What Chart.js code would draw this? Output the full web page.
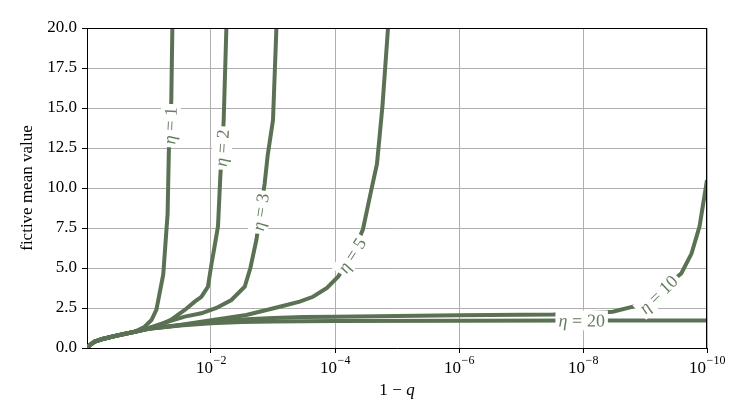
<!DOCTYPE html>
<html>
<head>
<meta charset="utf-8">
<script src="https://cdn.jsdelivr.net/npm/chart.js@4.4.1/dist/chart.umd.min.js"></script>
<style>
  body { margin: 0; background: #fff; }
  canvas { display: block; }
</style>
</head>
<body>
<canvas id="grafica-mean" width="750" height="420"></canvas>
<script>
// shared start of every curve (1 - q, value)
const trunkX = [1, 0.8913, 0.7499, 0.5623, 0.3548, 0.1698];
const trunkY = [0, 0.2, 0.4, 0.56, 0.75, 1.02];

const eta1X = [0.1175, 0.0912, 0.0759, 0.0589, 0.0501, 0.0479, 0.0437, 0.0420, 0.0407];
const eta1Y = [1.33, 1.75, 2.4, 4.6, 8.4, 12.2, 15.5, 20, 24];

const eta2X = [0.1122, 0.0724, 0.0437, 0.0265, 0.0183, 0.0143, 0.01122, 0.00986, 0.00871, 0.00771, 0.00708, 0.00624, 0.00565, 0.00537];
const eta2Y = [1.2, 1.36, 1.78, 2.375, 2.9, 3.2, 3.83, 5.2, 6.4, 7.6, 10.7, 14.25, 20, 24];

const eta3X = [0.1, 0.0501, 0.0265, 0.0143, 0.00818, 0.00469, 0.002858, 0.002317, 0.001854, 0.001361, 0.001216, 0.001, 0.000881, 0.000832];
const eta3Y = [1.25, 1.64, 1.96, 2.17, 2.5, 3.0, 3.83, 5.0, 6.75, 10.3, 12.06, 14.25, 20, 24];

const eta5X = [0.1, 0.03199, 0.00933, 0.002692, 0.00078, 0.0003715, 0.0002265, 0.0001349, 0.0000891, 0.0000537, 0.0000355, 0.0000259, 0.00002104, 0.00001718, 0.00001396, 0.00001318];
const eta5Y = [1.22, 1.44, 1.75, 2.06, 2.58, 2.9, 3.2, 3.75, 4.46, 5.8, 7.4, 9.9, 11.5, 15.1, 20, 24];

const eta10X = [0.1, 0.03162, 0.01, 0.003162, 0.001, 0.0003162, 1e-4, 1e-5, 1e-6, 1e-7, 3.02e-8, 1e-8, 3.31e-9, 1.563e-9, 1e-9, 6.31e-10, 3.98e-10, 2.588e-10, 1.778e-10, 1.318e-10, 1e-10];
const eta10Y = [1.2, 1.42, 1.65, 1.78, 1.88, 1.93, 1.96, 2.0, 2.05, 2.08, 2.1, 2.16, 2.27, 2.58, 2.9, 3.3, 4.05, 4.67, 5.9, 7.6, 10.5];

const eta20X = [0.1, 0.03162, 0.01, 0.003162, 0.001, 1e-4, 1e-6, 1e-8, 1e-10];
const eta20Y = [1.2, 1.4, 1.55, 1.62, 1.66, 1.69, 1.71, 1.72, 1.72];

const etaNames = ['1', '2', '3', '5', '10', '20'];
// where each inline label sits (1 - q, value)
const labelAtX = [0.0461, 0.00672, 0.00164, 5.37e-5, 5.62e-10, 1.05e-8];
const labelAtY = [13.9, 12.5, 8.5, 5.8, 3.2, 1.72];

const xTicks = [1e-2, 1e-4, 1e-6, 1e-8, 1e-10];

const lineColor = '#5a7253';
const serif = '"Liberation Serif", "DejaVu Serif", serif';

const toPoints = (xs, ys) => trunkX.concat(xs).map((v, k) => ({x: v, y: trunkY.concat(ys)[k]}));
const series = [[eta1X, eta1Y], [eta2X, eta2Y], [eta3X, eta3Y], [eta5X, eta5Y], [eta10X, eta10Y], [eta20X, eta20Y]];

const drawMathLabel = (ctx, parts, size) => {
    // parts: [text, italic] pieces with math spacing around "="
    let w = 0;
    const gap = size * 0.26;
    parts.forEach((p, k) => {
        ctx.font = (p[1] ? 'italic ' : '') + size + 'px ' + serif;
        p.w = ctx.measureText(p[0]).width;
        w += p.w + (k ? gap : 0);
    });
    return {w, gap};
}

const inlineLabels = {
    id: 'inlineLabels',
    afterDatasetsDraw(chart) {
        const ctx = chart.ctx;
        const xs = chart.scales.x, ys = chart.scales.y;
        chart.data.datasets.forEach((ds, i) => {
            const pts = chart.getDatasetMeta(i).data;
            const ax = xs.getPixelForValue(labelAtX[i]);
            const ay = ys.getPixelForValue(labelAtY[i]);
            let best = null;
            for (let k = 0; k < pts.length - 1; k++) {
                const p = pts[k], q = pts[k + 1];
                const dx = q.x - p.x, dy = q.y - p.y;
                const len2 = dx * dx + dy * dy;
                if (!len2) continue;
                let t = ((ax - p.x) * dx + (ay - p.y) * dy) / len2;
                t = Math.max(0, Math.min(1, t));
                const px = p.x + t * dx, py = p.y + t * dy;
                const d = (px - ax) ** 2 + (py - ay) ** 2;
                if (!best || d < best.d) best = {d, px, py, ang: Math.atan2(dy, dx)};
            }
            const size = 18;
            const parts = [['η', true], ['=', false], [etaNames[i], false]];
            const m = drawMathLabel(ctx, parts, size);
            ctx.save();
            ctx.translate(best.px, best.py);
            ctx.rotate(best.ang);
            ctx.fillStyle = '#fff';
            ctx.fillRect(-m.w / 2 - 3, -size * 0.55, m.w + 6, size * 1.1);
            ctx.fillStyle = '#667c60';
            ctx.textBaseline = 'alphabetic';
            let cx = -m.w / 2;
            parts.forEach((p, k) => {
                ctx.font = (p[1] ? 'italic ' : '') + size + 'px ' + serif;
                ctx.fillText(p[0], cx, size * 0.33);
                cx += p.w + m.gap;
            });
            ctx.restore();
        });
    },
    afterDraw(chart) {
        const ctx = chart.ctx;
        const a = chart.chartArea;
        const xs = chart.scales.x;
        ctx.save();
        // top and right spines
        ctx.strokeStyle = '#000';
        ctx.lineWidth = 1;
        ctx.beginPath();
        ctx.moveTo(a.left, Math.round(a.top) + 0.5);
        ctx.lineTo(a.right, Math.round(a.top) + 0.5);
        ctx.moveTo(Math.round(a.right) - 0.5, a.top);
        ctx.lineTo(Math.round(a.right) - 0.5, a.bottom);
        ctx.stroke();

        // x tick labels as 10^n
        ctx.fillStyle = '#000';
        ctx.textBaseline = 'alphabetic';
        xs.ticks.forEach(t => {
            const tx = xs.getPixelForValue(t.value);
            const ex = '\u2212' + Math.round(-Math.log10(t.value));
            ctx.font = '17px ' + serif;
            const w1 = ctx.measureText('10').width;
            ctx.font = '12px ' + serif;
            const w2 = ctx.measureText(ex).width;
            const x0 = tx - (w1 + w2) / 2;
            ctx.font = '17px ' + serif;
            ctx.fillText('10', x0, a.bottom + 24.5);
            ctx.font = '12px ' + serif;
            ctx.fillText(ex, x0 + w1 + 0.5, a.bottom + 16);
        });

        // x title: 1 − q
        const tparts = [['1', false], ['\u2212', false], ['q', true]];
        const tm = drawMathLabel(ctx, tparts, 17);
        let cx = (a.left + a.right) / 2 - tm.w / 2;
        tparts.forEach(p => {
            ctx.font = (p[1] ? 'italic ' : '') + '17px ' + serif;
            ctx.fillText(p[0], cx, a.bottom + 47);
            cx += p.w + tm.gap;
        });

        // y title
        ctx.translate(28, (a.top + a.bottom) / 2);
        ctx.rotate(-Math.PI / 2);
        ctx.font = '17px ' + serif;
        ctx.textAlign = 'center';
        ctx.textBaseline = 'middle';
        ctx.fillText('fictive mean value', 0, 0);
        ctx.restore();
    }
};

const canvas = document.getElementById('grafica-mean');

new Chart(canvas, {
    type: 'line',
    data: {
        datasets: series.map((s, i) => ({
            label: 'η = ' + etaNames[i],
            data: toPoints(s[0], s[1]),
            borderColor: lineColor,
            borderWidth: 4,
            pointRadius: 0,
            tension: 0,
            fill: false,
            clip: 0
        }))
    },
    options: {
        responsive: false,
        animation: false,
        devicePixelRatio: 1,
        layout: { padding: { top: 28, right: 43, left: 0, bottom: 0 } },
        plugins: {
            legend: { display: false },
            tooltip: { enabled: false }
        },
        scales: {
            x: {
                type: 'logarithmic',
                reverse: true,
                min: 1e-10,
                max: 1,
                afterBuildTicks: (scale) => {
                    scale.ticks = xTicks.map(v => ({value: v}));
                },
                afterFit: (scale) => { scale.height = 72; },
                ticks: { display: false },
                grid: {
                    color: '#b0b0b0',
                    lineWidth: 1,
                    tickColor: '#000',
                    tickLength: 5
                },
                border: { color: '#000', width: 1 }
            },
            y: {
                min: 0,
                max: 20,
                afterFit: (scale) => { scale.width = 87; },
                ticks: {
                    stepSize: 2.5,
                    padding: 5,
                    color: '#000',
                    font: { family: serif, size: 17 },
                    callback: (v) => v.toFixed(1)
                },
                grid: {
                    color: '#b0b0b0',
                    lineWidth: 1,
                    tickColor: '#000',
                    tickLength: 5
                },
                border: { color: '#000', width: 1 }
            }
        }
    },
    plugins: [inlineLabels]
});
</script>
</body>
</html>
